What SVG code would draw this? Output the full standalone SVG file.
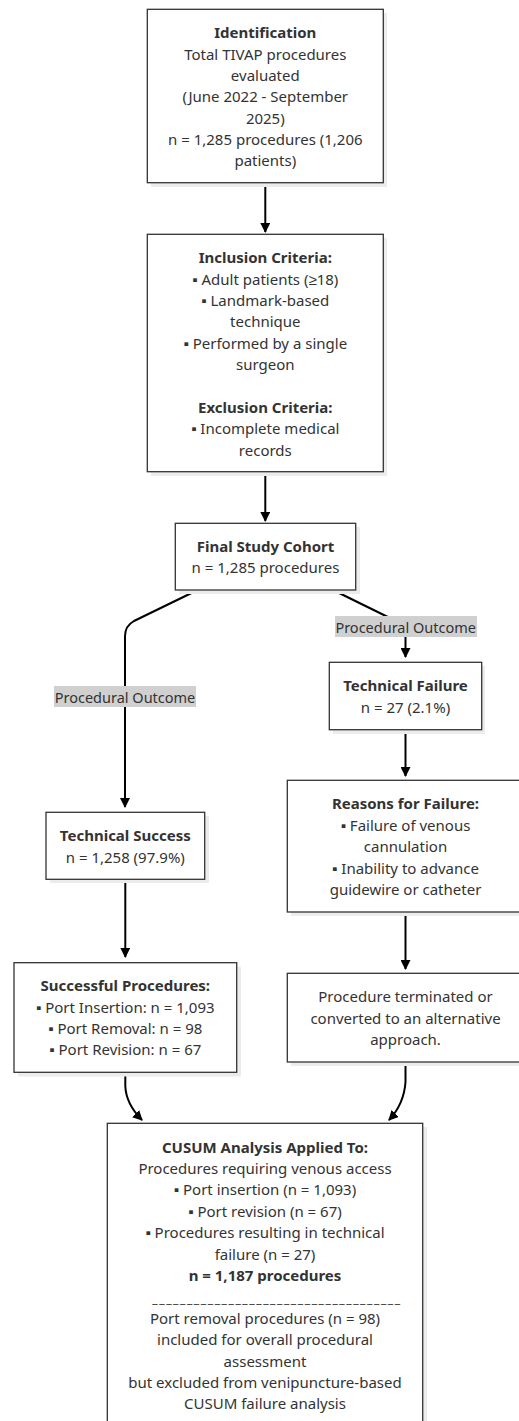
<svg xmlns="http://www.w3.org/2000/svg" width="519" height="1421" viewBox="0 0 519 1421">
<defs>
<marker id="arr" viewBox="0 0 10 10" refX="9" refY="5" markerWidth="10" markerHeight="10" markerUnits="userSpaceOnUse" orient="auto">
<path d="M0,0 L10,5 L0,10 z" fill="#000"/>
</marker>
<style>
.box{fill:#fff;stroke:#333;stroke-width:1.3}
.sh{fill:#ececec}
text{font-family:"Noto Sans","Liberation Sans",sans-serif;font-size:15px;fill:#333;text-anchor:middle;dominant-baseline:central}
.b{font-weight:bold}
.edge{fill:none;stroke:#000;stroke-width:2}
.lbg{fill:#d0d0d0}
.lt{font-size:14.5px}
.us{font-size:12px;letter-spacing:1.6px}
</style>
</defs>
<rect width="519" height="1421" fill="#fff"/>

<g id="connectors">
<path class="edge" d="M265.3,183 L265.3,232" marker-end="url(#arr)"/>
<path class="edge" d="M265.3,472 L265.3,521" marker-end="url(#arr)"/>
<path class="edge" d="M197.7,590 L134,621 Q125,626 125,636 L125,807" marker-end="url(#arr)"/>
<path class="edge" d="M333,590 L396,621 Q405.5,626 405.5,636 L405.5,657" marker-end="url(#arr)"/>
<path class="edge" d="M405.5,730 L405.5,776" marker-end="url(#arr)"/>
<path class="edge" d="M405.5,912 L405.5,969" marker-end="url(#arr)"/>
<path class="edge" d="M125.3,879 L125.3,957" marker-end="url(#arr)"/>
<path class="edge" d="M125.3,1072 L125.3,1086 Q126,1104 142,1120" marker-end="url(#arr)"/>
<path class="edge" d="M405.5,1062 L405.5,1082 Q404,1104 389,1120" marker-end="url(#arr)"/>
<rect class="lbg" x="54" y="686" width="142" height="21"/>
<text class="lt" x="125" y="696.5">Procedural Outcome</text>
<rect class="lbg" x="335" y="616" width="142" height="21"/>
<text class="lt" x="405.7" y="626.5">Procedural Outcome</text>
</g>

<g id="identification">
<rect class="sh" x="151" y="13" width="236" height="174"/>
<rect class="box" x="147.3" y="9.3" width="236" height="173.4"/>
<text class="b" x="265.3" y="32.3">Identification</text>
<text x="265.3" y="53.7">Total TIVAP procedures</text>
<text x="265.3" y="75">evaluated</text>
<text x="265.3" y="96.3">(June 2022 - September</text>
<text x="265.3" y="117.7">2025)</text>
<text x="265.3" y="139">n = 1,285 procedures (1,206</text>
<text x="265.3" y="160.3">patients)</text>
</g>

<g id="criteria">
<rect class="sh" x="151" y="238" width="236" height="238"/>
<rect class="box" x="147.3" y="234.3" width="236" height="237.4"/>
<text class="b" x="265.3" y="257.3">Inclusion Criteria:</text>
<text x="265.3" y="278.7">▪ Adult patients (≥18)</text>
<text x="265.3" y="300">▪ Landmark-based</text>
<text x="265.3" y="321.4">technique</text>
<text x="265.3" y="342.8">▪ Performed by a single</text>
<text x="265.3" y="364.2">surgeon</text>
<text class="b" x="265.3" y="407">Exclusion Criteria:</text>
<text x="265.3" y="428.4">▪ Incomplete medical</text>
<text x="265.3" y="449.8">records</text>
</g>

<g id="cohort">
<rect class="sh" x="179" y="527" width="181" height="67"/>
<rect class="box" x="175.3" y="523.3" width="180.4" height="66.7"/>
<text class="b" x="265.5" y="545.7">Final Study Cohort</text>
<text x="265.5" y="567">n = 1,285 procedures</text>
</g>

<g id="failure">
<rect class="sh" x="333" y="666" width="152" height="68"/>
<rect class="box" x="329.3" y="662.3" width="152.4" height="67.4"/>
<text class="b" x="405.5" y="685">Technical Failure</text>
<text x="405.5" y="706.5">n = 27 (2.1%)</text>
</g>

<g id="success">
<rect class="sh" x="50" y="816" width="159" height="67"/>
<rect class="box" x="46" y="812.3" width="158.7" height="67"/>
<text class="b" x="125.3" y="835">Technical Success</text>
<text x="125.3" y="856.5">n = 1,258 (97.9%)</text>
</g>

<g id="successful-procedures">
<rect class="sh" x="18" y="966.5" width="223" height="110"/>
<rect class="box" x="14" y="962.7" width="222.7" height="109.6"/>
<text class="b" x="125.3" y="985">Successful Procedures:</text>
<text x="125.3" y="1006.5">▪ Port Insertion: n = 1,093</text>
<text x="125.3" y="1028">▪ Port Removal: n = 98</text>
<text x="125.3" y="1049.3">▪ Port Revision: n = 67</text>
</g>

<g id="reasons">
<rect class="sh" x="291" y="784" width="237" height="132"/>
<rect class="box" x="287.3" y="780.3" width="236.7" height="131.7"/>
<text class="b" x="405.5" y="803.3">Reasons for Failure:</text>
<text x="405.5" y="824.7">▪ Failure of venous</text>
<text x="405.5" y="846">cannulation</text>
<text x="405.5" y="867.5">▪ Inability to advance</text>
<text x="405.5" y="888.8">guidewire or catheter</text>
</g>

<g id="terminated">
<rect class="sh" x="291" y="977" width="237" height="89"/>
<rect class="box" x="287.3" y="973.3" width="236.7" height="88.7"/>
<text x="405.5" y="996">Procedure terminated or</text>
<text x="405.5" y="1017.5">converted to an alternative</text>
<text x="405.5" y="1039">approach.</text>
</g>

<g id="cusum">
<rect class="sh" x="111" y="1127" width="316" height="310"/>
<rect class="box" x="107.3" y="1123.3" width="315.4" height="310"/>
<text class="b" x="265" y="1146.7">CUSUM Analysis Applied To:</text>
<text x="265" y="1168">Procedures requiring venous access</text>
<text x="265" y="1189.4">▪ Port insertion (n = 1,093)</text>
<text x="265" y="1210.8">▪ Port revision (n = 67)</text>
<text x="265" y="1232.2">▪ Procedures resulting in technical</text>
<text x="265" y="1253.6">failure (n = 27)</text>
<text class="b" x="265" y="1275">n = 1,187 procedures</text>
<text class="us" x="277" y="1298">____________________________________</text>
<text x="265" y="1317.8">Port removal procedures (n = 98)</text>
<text x="265" y="1339.2">included for overall procedural</text>
<text x="265" y="1360.6">assessment</text>
<text x="265" y="1382">but excluded from venipuncture-based</text>
<text x="265" y="1403.4">CUSUM failure analysis</text>
</g>
</svg>
